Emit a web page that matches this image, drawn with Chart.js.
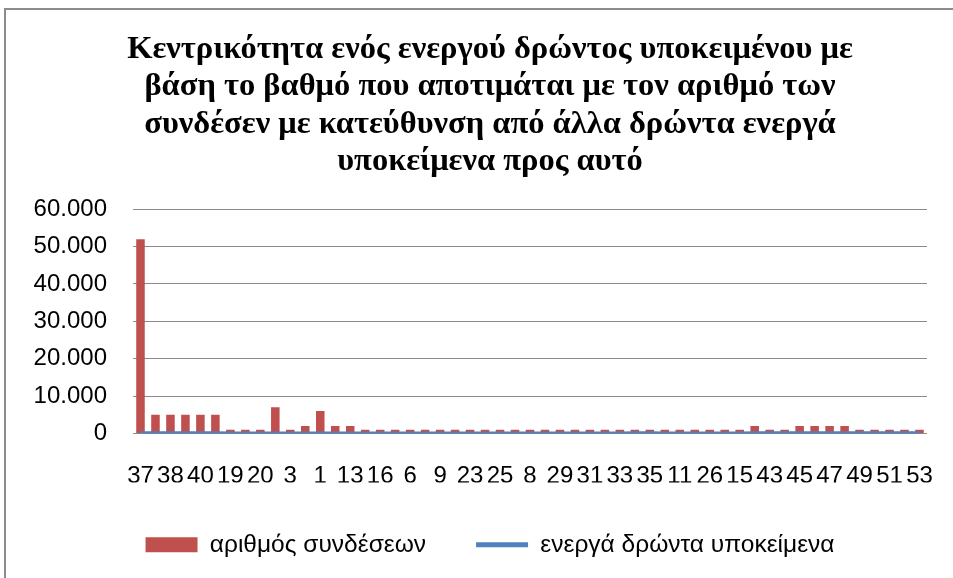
<!DOCTYPE html>
<html>
<head>
<meta charset="utf-8">
<script src="https://cdn.jsdelivr.net/npm/chart.js@4.4.1/dist/chart.umd.min.js"></script>
<style>
  html, body { margin: 0; padding: 0; background: #fff; overflow: hidden; }
  #frame { position: absolute; left: 4px; top: 8px; width: 1000px; height: 620px; border: 2px solid #8c8c8c; }
  #wrap { position: absolute; left: 0; top: 0; width: 953px; height: 578px; }
</style>
</head>
<body>
<div id="frame"></div>
<div id="wrap"><canvas id="degree-chart" width="953" height="578"></canvas></div>
<script>
const nodes = ['37', '36', '38', '39', '40', '41', '19', '17', '20', '21', '3', '2', '1', '12', '13', '14', '16', '5',
  '6', '7', '9', '22', '23', '24', '25', '27', '8', '28', '29', '30', '31', '32', '33', '34', '35', '10', '11', '4',
  '26', '18', '15', '42', '43', '44', '45', '46', '47', '48', '49', '50', '51', '52', '53'];

const links = [52000, 5000, 5000, 5000, 5000, 5000, 1000, 1000, 1000, 7000, 1000, 2000, 6000, 2000, 2000, 1000, 1000, 1000,
  1000, 1000, 1000, 1000, 1000, 1000, 1000, 1000, 1000, 1000, 1000, 1000, 1000, 1000, 1000, 1000, 1000, 1000, 1000, 1000,
  1000, 1000, 1000, 2000, 1000, 1000, 2000, 2000, 2000, 2000, 1000, 1000, 1000, 1000, 1000];

const actors = [37, 36, 38, 39, 40, 41, 19, 17, 20, 21, 3, 2, 1, 12, 13, 14, 16, 5,
  6, 7, 9, 22, 23, 24, 25, 27, 8, 28, 29, 30, 31, 32, 33, 34, 35, 10, 11, 4,
  26, 18, 15, 42, 43, 44, 45, 46, 47, 48, 49, 50, 51, 52, 53];

const yTicks = [0, 10000, 20000, 30000, 40000, 50000, 60000];

const titleLines = [
  'Κεντρικότητα ενός ενεργού δρώντος υποκειμένου με',
  'βάση το βαθμό που αποτιμάται με τον αριθμό των',
  'συνδέσεν με κατεύθυνση από άλλα δρώντα ενεργά',
  'υποκείμενα προς αυτό'
];

const red = '#C0504D';
const blue = '#4F81BD';
const grid = '#8a8a8a';
const sans = "'Liberation Sans', Arial, sans-serif";

function fmt(v) {
  return String(v).replace(/\B(?=(\d{3})+(?!\d))/g, '.');
}

const data = {
  labels: nodes,
  datasets: [{
    type: 'bar',
    label: 'αριθμός συνδέσεων',
    data: links,
    backgroundColor: red,
    borderWidth: 0,
    barPercentage: 0.57,
    categoryPercentage: 1,
    order: 2
  }, {
    type: 'line',
    label: 'ενεργά δρώντα υποκείμενα',
    data: actors,
    borderColor: blue,
    backgroundColor: blue,
    borderWidth: 4,
    pointRadius: 0,
    fill: false,
    order: 1
  }]
};

const config = {
  type: 'bar',
  data: data,
  options: {
    responsive: false,
    animation: false,
    layout: { padding: { left: 30, right: 3, top: 12, bottom: 11 } },
    plugins: {
      title: {
        display: true,
        text: titleLines,
        color: '#000',
        font: { family: "'Liberation Serif', 'Times New Roman', serif", size: 32.5, weight: 'bold', lineHeight: 1.148 },
        padding: { top: 19, bottom: 29 }
      },
      legend: {
        position: 'bottom',
        labels: {
          color: '#000',
          font: { family: sans, size: 24.5 },
          usePointStyle: true,
          pointStyleWidth: 52,
          boxHeight: 15,
          padding: 50,
          sort: (a, b) => a.datasetIndex - b.datasetIndex,
          generateLabels(chart) {
            const items = Chart.defaults.plugins.legend.labels.generateLabels(chart);
            items.forEach(it => {
              if (it.datasetIndex === 0) {
                it.pointStyle = 'rect';
                it.lineWidth = 0;
              } else {
                it.pointStyle = 'line';
                it.lineWidth = 5;
                it.strokeStyle = blue;
              }
            });
            return items;
          }
        }
      },
      tooltip: { enabled: false }
    },
    scales: {
      x: {
        grid: { display: false },
        border: { display: true, color: grid, width: 1 },
        ticks: {
          color: '#000',
          font: { family: sans, size: 24 },
          autoSkip: false,
          maxRotation: 0,
          minRotation: 0,
          padding: 20,
          callback(v, i) { return i % 2 === 0 ? nodes[i] : ''; }
        },
        afterFit(s) { s.height = 49; }
      },
      y: {
        min: 0,
        max: 60000,
        afterBuildTicks(s) { s.ticks = yTicks.map(v => ({ value: v })); },
        grid: { color: grid, drawTicks: false },
        border: { display: false },
        ticks: {
          color: '#000',
          font: { family: sans, size: 24 },
          padding: 26,
          callback(v) { return fmt(v); }
        },
        afterFit(s) { s.width = 103; }
      },
      y2: {
        position: 'right',
        display: true,
        grid: { display: false, drawOnChartArea: false },
        border: { display: false },
        ticks: { display: false },
        afterFit(s) { s.width = 15; }
      }
    }
  }
};

let chartObj = document.getElementById('degree-chart');
let degreeChart = new Chart(chartObj, config);
</script>
</body>
</html>
